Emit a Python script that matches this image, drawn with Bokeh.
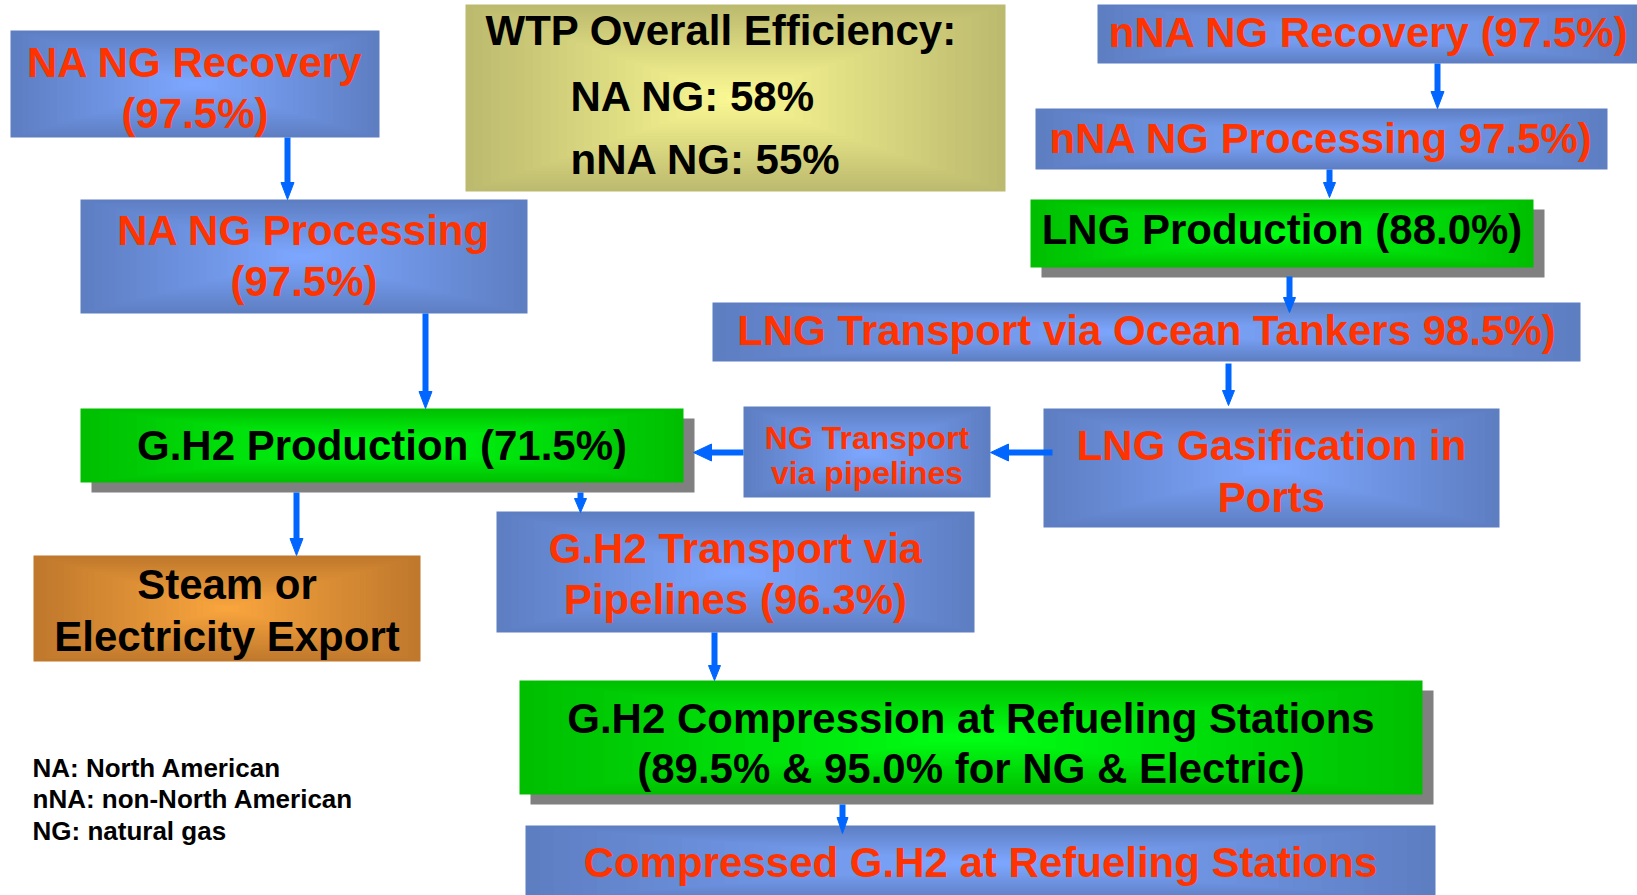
from bokeh.plotting import figure
from bokeh.models import Range1d, ColumnDataSource
from bokeh.core.properties import value
from bokeh.embed import file_html
from bokeh.resources import INLINE

# ---------------- data (texts of the flowchart) ----------------
wtp_title = "WTP Overall Efficiency:"
wtp_lines = ["NA NG: 58%", "nNA NG: 55%"]

box_lines = [
    ["NA NG Recovery", "(97.5%)"],
    ["NA NG Processing", "(97.5%)"],
    ["nNA NG Recovery (97.5%)"],
    ["nNA NG Processing 97.5%)"],
    ["LNG Production (88.0%)"],
    ["LNG Transport via Ocean Tankers 98.5%)"],
    ["LNG Gasification in", "Ports"],
    ["NG Transport", "via pipelines"],
    ["G.H2 Production (71.5%)"],
    ["Steam or", "Electricity Export"],
    ["G.H2 Transport via", "Pipelines (96.3%)"],
    ["G.H2 Compression at Refueling Stations", "(89.5% & 95.0% for NG & Electric)"],
    ["Compressed G.H2 at Refueling Stations"],
]
box_style = ["blue", "blue", "blue", "blue", "green", "blue", "blue",
             "blue", "green", "orange", "blue", "green", "blue"]
legend_lines = ["NA: North American", "nNA: non-North American", "NG: natural gas"]

# ---------------- layout (pixel positions on the page) ----------------
box_left   = [10, 80, 1097, 1035, 1030, 712, 1043, 743, 80, 33, 496, 519, 525]
box_right  = [379, 527, 1640, 1607, 1533, 1580, 1499, 990, 683, 420, 974, 1422, 1435]
box_top    = [30, 199, 4, 108, 199, 302, 408, 406, 408, 555, 511, 680, 825]
box_bottom = [137, 313, 63, 169, 267, 361, 527, 497, 482, 661, 632, 794, 900]
line_cap_y = [[62, 113], [230, 281], [32], [138], [229], [330], [445, 497],
              [437, 472], [445], [584, 636], [548, 599], [718, 768], [862]]
box_font = [42, 42, 42, 42, 42, 42, 42, 32, 42, 42, 42, 42, 42]

wtp_box = (465, 1005, 4, 191)
wtp_x = [485, 570, 570]
wtp_cap_y = [30, 96, 159]

legend_x = 32
legend_cap_y = [767, 798, 830]

# arrows: x0, y0, x1, y1, head width, head length
arrows = [
    (287, 137, 287, 199, 13, 17),
    (425, 313, 425, 408, 13, 17),
    (1437, 63, 1437, 108, 13, 17),
    (1329, 169, 1329, 197, 12, 15),
    (1289, 276, 1289, 312, 12, 15),
    (1228, 363, 1228, 405, 12, 15),
    (1052, 452, 990, 452, 17, 18),
    (743, 452, 693, 452, 17, 18),
    (296, 492, 296, 555, 13, 17),
    (580, 492, 580, 512, 12, 14),
    (714, 632, 714, 680, 12, 15),
    (842, 804, 842, 833, 11, 16),
]

styles = {
    "blue":   ("#5e7ec2", "#7da7ff", "#ff3300"),
    "green":  ("#00bf00", "#00ff14", "#000000"),
    "orange": ("#bf782c", "#f9a53e", "#000000"),
    "olive":  ("#bcba6e", "#faf893", "#000000"),
}
SHADOW = "#808080"
ARROW = "#0066ff"
FONT = "Liberation Sans"

W, H = 1637, 895
p = figure(width=W, height=H, output_backend="svg", toolbar_location=None,
           x_range=Range1d(0, W), y_range=Range1d(H, 0),
           x_axis_location=None, y_axis_location=None, min_border=0,
           tools="")
p.grid.visible = False
p.outline_line_color = None
p.background_fill_color = "white"
p.border_fill_color = "white"


def hex2rgb(h):
    return tuple(int(h[i:i + 2], 16) for i in (1, 3, 5))


def mix(c0, c1, t):
    a, b = hex2rgb(c0), hex2rgb(c1)
    return "#%02x%02x%02x" % tuple(int(round(a[i] + (b[i] - a[i]) * t)) for i in range(3))


quads = dict(left=[], right=[], top=[], bottom=[], color=[])


def add_box(l, r, t, b, style, n=32):
    edge, center, _ = styles[style]
    cx, cy = (l + r) / 2, (t + b) / 2
    hw, hh = (r - l) / 2, (b - t) / 2
    for k in range(n):
        f = 1 - k / n
        quads["left"].append(cx - hw * f)
        quads["right"].append(cx + hw * f)
        quads["top"].append(cy - hh * f)
        quads["bottom"].append(cy + hh * f)
        quads["color"].append(mix(edge, center, k / (n - 1)))


# shadows of green boxes
sh = dict(left=[], right=[], top=[], bottom=[])
for i, st in enumerate(box_style):
    if st == "green":
        sh["left"].append(box_left[i] + 11)
        sh["right"].append(box_right[i] + 11)
        sh["top"].append(box_top[i] + 10)
        sh["bottom"].append(box_bottom[i] + 10)
p.quad(source=ColumnDataSource(sh), left="left", right="right", top="top",
       bottom="bottom", fill_color=SHADOW, line_color=None)

add_box(*wtp_box, "olive")
for i, st in enumerate(box_style):
    add_box(box_left[i], box_right[i], box_top[i], box_bottom[i], st)
p.quad(source=ColumnDataSource(quads), left="left", right="right", top="top",
       bottom="bottom", fill_color="color", line_color=None)

# arrows
seg = dict(x0=[], y0=[], x1=[], y1=[])
heads = dict(xs=[], ys=[])
for x0, y0, x1, y1, hw, hl in arrows:
    dx, dy = x1 - x0, y1 - y0
    L = (dx * dx + dy * dy) ** 0.5
    ux, uy = dx / L, dy / L
    bx, by = x1 - ux * hl, y1 - uy * hl
    seg["x0"].append(x0)
    seg["y0"].append(y0)
    seg["x1"].append(bx + ux)
    seg["y1"].append(by + uy)
    px, py = -uy, ux
    heads["xs"].append([x1, bx + px * hw / 2, bx - px * hw / 2])
    heads["ys"].append([y1, by + py * hw / 2, by - py * hw / 2])
p.segment(source=ColumnDataSource(seg), x0="x0", y0="y0", x1="x1", y1="y1",
          line_color=ARROW, line_width=6)
p.patches(source=ColumnDataSource(heads), xs="xs", ys="ys",
          fill_color=ARROW, line_color=ARROW, line_width=1)

# texts (y is the vertical centre of the capitals)
groups = {}
for i, lines in enumerate(box_lines):
    cx = (box_left[i] + box_right[i]) / 2
    col = styles[box_style[i]][2]
    fs = box_font[i]
    for txt, cy in zip(lines, line_cap_y[i]):
        g = groups.setdefault(fs, dict(x=[], y=[], text=[], color=[]))
        g["x"].append(cx)
        g["y"].append(cy)
        g["text"].append(txt)
        g["color"].append(col)
for fs, g in groups.items():
    p.text(source=ColumnDataSource(g), x="x", y="y", text="text",
           text_color="color", text_font=value(FONT), text_font_style="bold",
           text_font_size=value(f"{fs}px"), text_align="center",
           text_baseline="alphabetic")

wtp_texts = [wtp_title] + wtp_lines
p.text(x=wtp_x, y=wtp_cap_y, text=wtp_texts,
       text_color="black", text_font=value(FONT), text_font_style="bold",
       text_font_size=value("42px"), text_align="left", text_baseline="alphabetic")

p.text(x=[legend_x] * len(legend_lines), y=legend_cap_y,
       text=legend_lines, text_color="black", text_font=value(FONT),
       text_font_style="bold", text_font_size=value("26px"), text_align="left",
       text_baseline="alphabetic")

open("out.html", "w").write(file_html(p, INLINE))
